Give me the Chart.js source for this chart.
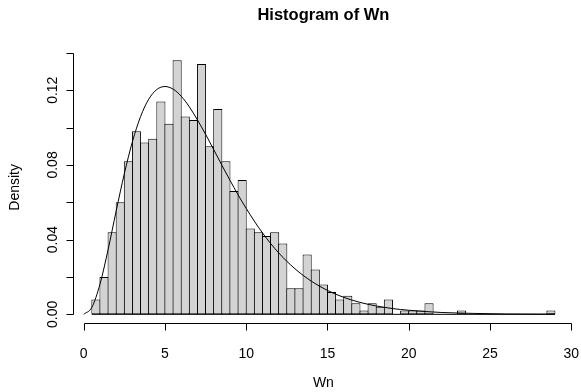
<!DOCTYPE html>
<html>
<head>
<meta charset="utf-8">
<script src="https://cdn.jsdelivr.net/npm/chart.js@4/dist/chart.umd.min.js"></script>
<style>
  html, body { margin: 0; padding: 0; background: #fff; }
  #wrap { width: 581px; height: 392px; }
</style>
</head>
<body>
<div id="wrap"><canvas id="c" width="581" height="392"></canvas></div>
<script>
// ---- data ----
const binWidth = 0.5;
const binStarts = [0.5,1,1.5,2,2.5,3,3.5,4,4.5,5,5.5,6,6.5,7,7.5,8,8.5,9,9.5,10,
  10.5,11,11.5,12,12.5,13,13.5,14,14.5,15,15.5,16,16.5,17,17.5,18,18.5,19,19.5,20,
  20.5,21,21.5,22,22.5,23,23.5,24,24.5,25,25.5,26,26.5,27,27.5,28,28.5];
const densities = [0.008,0.020,0.044,0.060,0.082,0.098,0.092,0.094,0.114,0.102,
  0.136,0.106,0.104,0.134,0.090,0.110,0.082,0.066,0.072,0.046,
  0.044,0.042,0.044,0.038,0.014,0.014,0.032,0.024,0.016,0.012,
  0.008,0.010,0.006,0.002,0.006,0.004,0.008,0,0.002,0.002,
  0.002,0.006,0,0,0,0.002,0,0,0,0,0,0,0,0,0,0,0.002];
const curveX = [0,0.5,1,1.5,2,2.5,3,3.5,4,4.5,5,5.5,6,6.5,7,7.5,8,8.5,9,9.5,10,
  11,12,13,14,15,16,17,18,19,20,22,24,26,29];
const curveY = [0,0.0037,0.0161,0.0346,0.0554,0.0753,0.0925,0.1059,0.1152,0.1204,0.1220,
  0.1206,0.1168,0.1111,0.1041,0.0964,0.0882,0.0799,0.0718,0.0640,0.0567,
  0.0436,0.0329,0.0244,0.0178,0.0128,0.0091,0.0064,0.0045,0.0031,0.0022,
  0.0010,0.0005,0.0002,0.0001];
const xTicks = [0,5,10,15,20,25,30];
const yTicks = [0,0.02,0.04,0.06,0.08,0.10,0.12,0.14];
const yTickLabels = ["0.00","0.04","0.08","0.12"];
const yLabelValues = [0,0.04,0.08,0.12];
const titleText = "Histogram of Wn";
const xTitle = "Wn";
const yTitle = "Density";

// ---- build datasets ----
const barData = binStarts.map((s, i) => ({ x: s + binWidth / 2, y: densities[i] }));
const curveData = curveX.map((x, i) => ({ x: x, y: curveY[i] }));
const baseData = [{ x: binStarts[0], y: 0 }, { x: binStarts[binStarts.length - 1] + binWidth, y: 0 }];

const FONT = '"Liberation Sans", Arial, Helvetica, sans-serif';

const rAxes = {
  id: 'rAxes',
  afterDraw(chart) {
    const { ctx, chartArea: a } = chart;
    const xs = chart.scales.x, ys = chart.scales.y;
    ctx.save();
    ctx.strokeStyle = '#000';
    ctx.fillStyle = '#000';
    ctx.lineWidth = 1;
    // x axis
    const ya = Math.floor(a.bottom) - 0.5;
    const x0 = Math.round(xs.getPixelForValue(xTicks[0])) + 0.5;
    const x1 = Math.round(xs.getPixelForValue(xTicks[xTicks.length - 1])) + 0.5;
    ctx.beginPath();
    ctx.moveTo(x0, ya); ctx.lineTo(x1, ya);
    xTicks.forEach(v => {
      const px = Math.round(xs.getPixelForValue(v)) + 0.5;
      ctx.moveTo(px, ya); ctx.lineTo(px, ya + 7);
    });
    ctx.stroke();
    ctx.font = '14px ' + FONT;
    ctx.textAlign = 'center';
    ctx.textBaseline = 'alphabetic';
    xTicks.forEach(v => {
      ctx.fillText(String(v), xs.getPixelForValue(v), 357.5);
    });
    // y axis
    const xa = Math.floor(a.left) + 0.5;
    const y0 = Math.round(ys.getPixelForValue(yTicks[0])) + 0.5;
    const y1 = Math.round(ys.getPixelForValue(yTicks[yTicks.length - 1])) + 0.5;
    ctx.beginPath();
    ctx.moveTo(xa, y0); ctx.lineTo(xa, y1);
    yTicks.forEach(v => {
      const py = Math.round(ys.getPixelForValue(v)) + 0.5;
      ctx.moveTo(xa, py); ctx.lineTo(xa - 7, py);
    });
    ctx.stroke();
    yLabelValues.forEach((v, i) => {
      const py = ys.getPixelForValue(v);
      ctx.save();
      ctx.translate(57, py);
      ctx.rotate(-Math.PI / 2);
      ctx.fillText(yTickLabels[i], 0, 0);
      ctx.restore();
    });
    // titles
    const cx = (a.left + a.right) / 2;
    const cy = (a.top + a.bottom) / 2;
    ctx.fillText(xTitle, cx, 387);
    ctx.save();
    ctx.translate(18.5, cy);
    ctx.rotate(-Math.PI / 2);
    ctx.fillText(yTitle, 0, 0);
    ctx.restore();
    ctx.font = 'bold 16.5px ' + FONT;
    ctx.fillText(titleText, cx, 20);
    ctx.restore();
  }
};

const xMin = -0.64, xMax = 30.14;
const plotWidthPx = 573.5 - 73.3;
const binPx = binWidth * plotWidthPx / (xMax - xMin);

new Chart(document.getElementById('c'), {
  type: 'bar',
  data: {
    datasets: [
      {
        type: 'line',
        data: curveData,
        borderColor: '#000',
        borderWidth: 1,
        pointRadius: 0,
        fill: false,
        cubicInterpolationMode: 'monotone',
        order: 0
      },
      {
        type: 'bar',
        data: barData,
        backgroundColor: '#d3d3d3',
        borderColor: '#000',
        borderWidth: 1,
        borderSkipped: false,
        barPercentage: (binPx + 1) / binPx,
        categoryPercentage: 1,
        grouped: false,
        order: 1
      },
      {
        type: 'line',
        data: baseData,
        borderColor: '#000',
        borderWidth: 1,
        pointRadius: 0,
        fill: false,
        order: 2
      }
    ]
  },
  options: {
    responsive: false,
    devicePixelRatio: 1,
    animation: false,
    events: [],
    layout: { padding: { left: 73.3, right: 581 - 573.5, top: 50.2, bottom: 392 - 324.5 } },
    plugins: { legend: { display: false }, tooltip: { enabled: false }, title: { display: false } },
    scales: {
      x: { type: 'linear', min: xMin, max: xMax, offset: false, display: false, grid: { display: false } },
      y: { type: 'linear', min: -0.00544, max: 0.14144, display: false, grid: { display: false } }
    }
  },
  plugins: [rAxes]
});
</script>
</body>
</html>
